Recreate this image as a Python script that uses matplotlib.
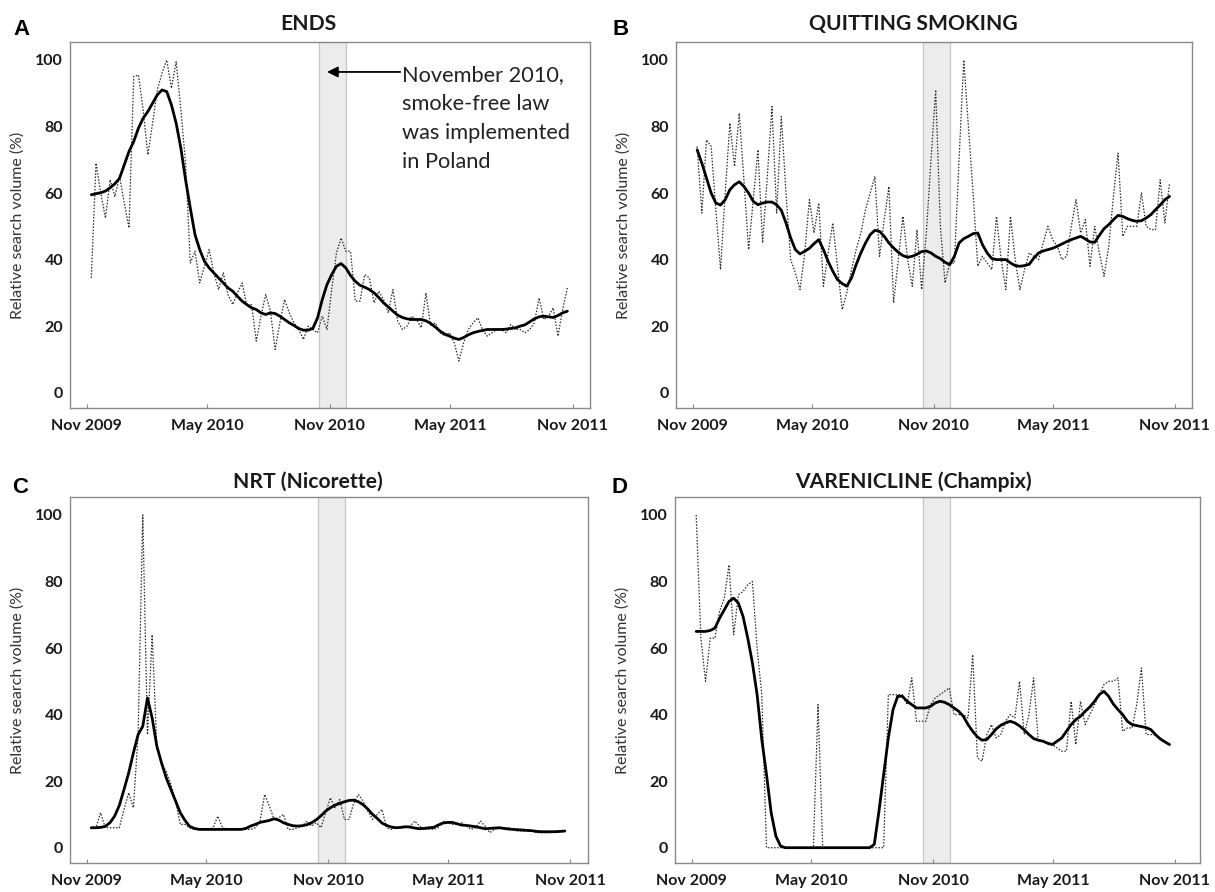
import matplotlib
matplotlib.use("Agg")
import matplotlib.pyplot as plt
import pandas as pd

W, H = 1215, 892
DPI = 100

# ---------------- data ----------------
weeks = pd.date_range("2009-11-08", "2011-10-24", periods=102)

ends_weekly = [34.5, 69, 60, 52.5, 64, 59, 65, 57, 49.5, 95,
               95.5, 85, 71.5, 81, 91, 96, 100, 91.5, 99.5, 85,
               69, 39, 42.5, 33, 38, 43, 36, 31, 36, 29.5,
               26.5, 30, 33, 26, 26.5, 15.5, 23, 29.5, 24.5, 13,
               21, 28, 24, 21, 19, 16, 20, 19, 18, 23,
               19, 31, 42, 46.5, 42.5, 42.5, 27.5, 27.5, 35.5, 34.5,
               27, 30.5, 28, 24, 31, 21.5, 19, 20, 23, 22,
               19.5, 30, 20, 21, 18, 17, 18, 15, 9.5, 15,
               19, 21, 22.5, 19, 17, 18, 19, 19, 18, 20.5,
               19, 19, 18, 19, 21, 28.5, 22, 23, 25.5, 17,
               25, 31.5]
ends_smooth = [59.5, 59.8, 60.1, 60.6, 61.6, 62.8, 64.5, 68.5, 72.5, 75.5,
               79.5, 82.5, 84.5, 87, 89.5, 91, 90.5, 86.5, 81, 73.5,
               64, 55.5, 47.5, 43, 39.5, 37.5, 36, 34.5, 33, 31.5,
               30.5, 29, 27.5, 26.5, 25.5, 25, 24, 23.5, 24, 23.8,
               23, 22, 21, 20.2, 19.3, 18.8, 18.8, 19.3, 22.5, 28,
               32.5, 35.5, 38, 38.8, 37.5, 35.2, 33.5, 32.3, 31.7, 31,
               30, 28.6, 27, 25.8, 24.5, 23.3, 22.6, 22.2, 22, 22,
               22, 21.6, 20.8, 19.7, 18.5, 17.6, 17, 16.4, 16, 16.6,
               17.4, 18, 18.4, 18.7, 19, 19, 19, 19, 19.1, 19.3,
               19.5, 20, 20.4, 21.3, 22.2, 22.8, 23, 22.8, 22.6, 23.2,
               24, 24.5]

quit_weekly = [74, 54, 76, 74, 55, 37, 60, 81, 68, 84,
               64, 43, 58, 73, 45, 65, 86, 54, 83, 60,
               40, 36, 31, 42, 58, 48, 57, 32, 42, 51,
               38, 25, 30, 37, 43, 48, 55, 60, 65, 41,
               52, 62, 27, 40, 53, 40, 32, 49, 31, 48,
               70, 91, 50, 33, 39, 39, 70, 100, 80, 60,
               38, 41, 39, 37, 53, 40, 31, 53, 40, 31,
               37, 42, 41, 40, 45, 50, 46, 44, 40, 41,
               50, 58, 48, 52, 38, 50, 42, 35, 44, 59,
               72, 47, 50, 50, 50, 60, 50, 49, 49, 64,
               51, 63]
quit_smooth = [73, 69, 64.5, 60, 57, 56.4, 58, 61, 62.5, 63.4,
               62, 60, 57.5, 56.5, 57, 57.3, 57.3, 56.5, 54.8, 51,
               46.5, 43, 41.7, 42.5, 43.4, 44.8, 46, 43, 39.5, 36.5,
               34, 32.8, 32, 34.5, 38.5, 42, 45, 47.5, 48.8, 48.5,
               47, 45, 43.5, 42.2, 41.2, 40.7, 41, 41.6, 42.4, 42.6,
               42, 41, 40.3, 39.2, 38.5, 41, 45, 46.3, 47, 47.8,
               48, 44.5, 42, 40.3, 40, 40, 40, 39, 38.2, 38,
               38.2, 38.6, 40.5, 42, 42.6, 43, 43.4, 44, 44.7, 45.4,
               46, 46.5, 47, 46.2, 45.3, 45.2, 47.3, 49.3, 50.5, 52,
               53.3, 53, 52.3, 51.8, 51.5, 51.7, 52.5, 53.5, 55, 56.4,
               58, 59]

nrt_weekly = [6, 6, 10.5, 6, 6, 6, 6, 11.5, 16.5, 12,
              34, 100, 34, 64, 30, 25, 23, 19, 14, 7,
              7, 6, 5.5, 5.5, 5.5, 5.5, 6, 9.5, 6, 5.5,
              5.5, 5.5, 5.5, 5.5, 5.5, 6, 8, 16, 12.5, 8.5,
              9, 10, 5.5, 5.5, 6, 6.5, 8, 6.5, 7.5, 6,
              10.5, 15, 12, 14.5, 8.5, 8.5, 13.5, 16, 14, 11,
              8.5, 10, 11.5, 6, 5.5, 6, 6, 6, 6.5, 8,
              6.5, 5.5, 5.5, 5.5, 6, 8, 7.5, 7, 7, 7.5,
              6.5, 5.5, 6, 8, 6.5, 4.5, 5.5, 6, 6, 6,
              5.5, 5, 5, 5, 5, 4.5, 4.5, 4.5, 4.5, 5,
              5, 5]
nrt_smooth = [6, 6, 6.1, 6.4, 7.5, 9.5, 12.7, 17.5, 22.5, 28.5,
              34, 36.5, 45, 39, 30.5, 25.5, 21, 17.5, 14, 10.5,
              8.2, 6.4, 5.8, 5.5, 5.5, 5.5, 5.5, 5.5, 5.5, 5.5,
              5.5, 5.5, 5.5, 5.8, 6.5, 7, 7.6, 7.9, 8.2, 8.7,
              8.3, 7.5, 7, 6.6, 6.5, 6.6, 6.9, 7.5, 8.4, 9.6,
              11, 12, 12.8, 13.3, 13.8, 14.2, 14.3, 13.8, 12.9, 11.6,
              10, 8.8, 7.4, 6.7, 6.2, 6, 6.1, 6.3, 6.2, 5.9,
              5.7, 5.8, 6, 6.1, 6.8, 7.4, 7.6, 7.6, 7.2, 6.8,
              6.7, 6.5, 6.3, 6, 5.7, 5.8, 5.9, 6, 5.8, 5.6,
              5.5, 5.4, 5.3, 5.2, 5.1, 4.9, 4.8, 4.8, 4.8, 4.8,
              4.9, 5]

var_weekly = [100, 63, 50, 63, 63, 71, 75, 85, 64, 76,
              77, 79, 80, 60, 46, 0, 0, 0, 0, 0,
              0, 0, 0, 0, 0, 0, 43, 0, 0, 0,
              0, 0, 0, 0, 0, 0, 0, 0, 0, 0,
              0, 46, 46, 46, 46, 43, 51, 38, 38, 38,
              43, 45, 46, 47, 48, 40, 40, 40, 39, 58,
              27, 26, 34, 37, 33, 34, 38, 40, 39, 50,
              34, 40, 51, 32, 32, 31, 31, 30, 29, 29,
              44, 31, 44, 37, 40, 43, 46, 49, 50, 50,
              51, 35, 36, 36, 43, 54, 34, 34, 34, 33,
              32, 31]
var_smooth = [65, 65, 65, 65.3, 66, 69, 71.5, 74, 75, 73.5,
              69.5, 63, 55.5, 46, 32.5, 22, 10.5, 3.5, 0.5, 0,
              0, 0, 0, 0, 0, 0, 0, 0, 0, 0,
              0, 0, 0, 0, 0, 0, 0, 0, 1, 11,
              22, 33, 41.5, 45.5, 45.5, 44, 43, 42, 42, 42,
              42.5, 43.5, 44, 43.7, 43, 42, 41, 39.5, 37, 35,
              33.3, 32.3, 32.5, 34, 35.7, 36.8, 37.5, 38, 37.5, 36.6,
              35.4, 34, 32.8, 32.3, 32, 31.4, 31, 32, 33, 35,
              37, 38.5, 39.5, 41, 42.3, 44, 46, 47, 45.5, 43.2,
              41.5, 40, 38, 37, 36.7, 36.4, 36.1, 35.5, 34, 32.7,
              31.8, 31]

titles = ["ENDS", "QUITTING SMOKING", "NRT (Nicorette)", "VARENICLINE (Champix)"]
letters = ["A", "B", "C", "D"]
tick_dates = pd.to_datetime(["2009-11-01", "2010-05-01", "2010-11-01",
                             "2011-05-01", "2011-11-01"])
tick_labels = ["Nov 2009", "May 2010", "Nov 2010", "May 2011", "Nov 2011"]
y_ticks = [0, 20, 40, 60, 80, 100]
law_start = pd.Timestamp("2010-10-16")
law_end = pd.Timestamp("2010-11-26")
note_text = "November 2010,\nsmoke-free law\nwas implemented\nin Poland"
ylabel = "Relative search volume (%)"

weekly_series = [ends_weekly, quit_weekly, nrt_weekly, var_weekly]
smooth_series = [ends_smooth, quit_smooth, nrt_smooth, var_smooth]

# ---------------- layout (pixels) ----------------
rects = [(70, 42, 590, 408), (676, 42, 1192, 408),
         (70, 497, 588, 863), (675, 497, 1200, 863)]
xmax = ["2011-11-27", "2011-11-27", "2011-11-28", "2011-12-09"]
title_pos = [(308, 30), (913, 30), (308, 488), (913, 488)]
letter_pos = [(13, 35), (613, 35), (12, 493), (612, 493)]
ylabel_x = [18, 624, 18, 623]

FONT = "Lato"
TXT = "#1a1a1a"


def fx(x):
    return x / W


def fy(y):
    return 1 - y / H


fig = plt.figure(figsize=(W / DPI, H / DPI), dpi=DPI)
fig.patch.set_facecolor("white")

for i in range(4):
    l, t, r, b = rects[i]
    ax = fig.add_axes([fx(l), fy(b), (r - l) / W, (b - t) / H])
    ax.axvspan(law_start, law_end, facecolor="#ececec", edgecolor="#c6c6c6",
               lw=0.9, zorder=0)
    ax.plot(weeks, weekly_series[i], color="#2a2a2a", lw=0.9,
            linestyle=(0, (1.2, 1.3)), zorder=2)
    ax.plot(weeks, smooth_series[i], color="black", lw=2.0,
            solid_joinstyle="round", solid_capstyle="round", zorder=3)
    ax.set_xlim(pd.Timestamp("2009-10-07"), pd.Timestamp(xmax[i]))
    ax.set_ylim(-4.6, 105.4)
    ax.set_xticks(tick_dates)
    ax.set_xticklabels(tick_labels)
    ax.set_yticks(y_ticks)
    ax.set_yticklabels([str(v) for v in y_ticks])
    ax.tick_params(axis="x", direction="in", length=3, width=0.8,
                   color="#888888", pad=8)
    ax.tick_params(axis="y", length=0, pad=5)
    for lab in ax.get_xticklabels() + ax.get_yticklabels():
        lab.set_fontfamily(FONT)
        lab.set_fontweight("bold")
        lab.set_fontsize(11.5)
        lab.set_color(TXT)
    for sp in ax.spines.values():
        sp.set_color("#8a8a8a")
        sp.set_linewidth(1.0)

    tx, ty = title_pos[i]
    fig.text(fx(tx), fy(ty), titles[i], ha="center", va="baseline",
             fontfamily=FONT, fontweight="bold", fontsize=15.2, color=TXT)
    lx, ly = letter_pos[i]
    fig.text(fx(lx), fy(ly), letters[i], ha="left", va="baseline",
             fontfamily="Liberation Sans", fontweight="bold", fontsize=16,
             color="black")
    fig.text(fx(ylabel_x[i]), fy((t + b) / 2), ylabel, rotation=90,
             ha="center", va="center", fontfamily=FONT, fontsize=11.5,
             color="#333333")

    if i == 0:
        ax.annotate("", xy=(pd.Timestamp("2010-10-28"), 96.4),
                    xytext=(pd.Timestamp("2011-02-15"), 96.4),
                    arrowprops=dict(arrowstyle="-|>", color="black", lw=1.3,
                                    mutation_scale=16, shrinkA=0, shrinkB=0),
                    zorder=4)
        fig.text(fx(402), fy(65), note_text, ha="left", va="top",
                 fontfamily=FONT, fontsize=15.7, color="#222222",
                 linespacing=1.56)

fig.savefig("out.png", dpi=DPI, facecolor="white")
